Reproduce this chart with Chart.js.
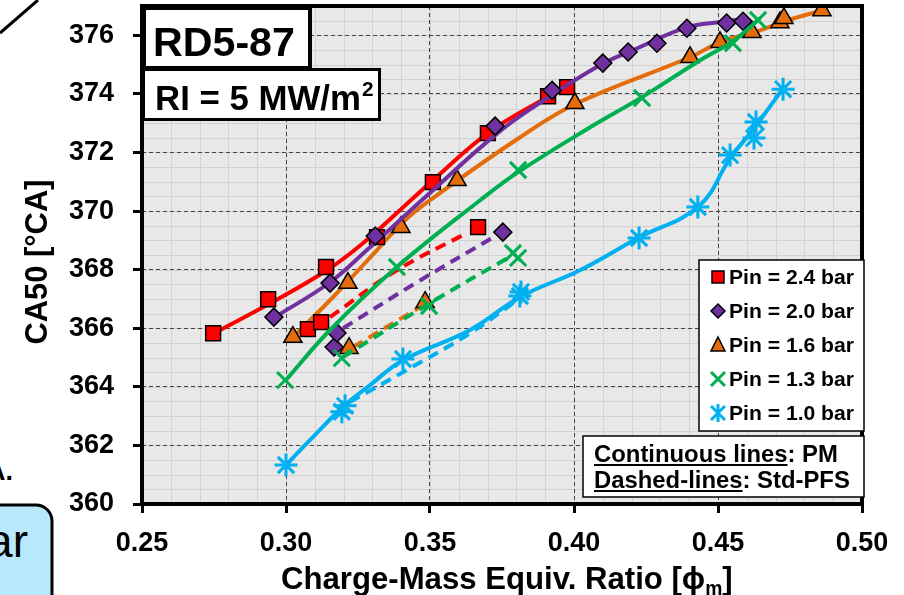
<!DOCTYPE html>
<html>
<head>
<meta charset="utf-8">
<script src="https://cdn.jsdelivr.net/npm/chart.js@4.4.1/dist/chart.umd.min.js"></script>
<style>
  body { margin: 0; background: #fff; width: 904px; height: 595px; overflow: hidden; position: relative; }
  #side { position: absolute; left: 0; top: 0; }
  #c { position: absolute; left: 0; top: 0; }
</style>
</head>
<body>
<svg id="side" width="904" height="595">
  <line x1="0" y1="33" x2="38" y2="0" stroke="#000" stroke-width="3"/>
  <text x="13" y="480" font-family="Liberation Sans, Arial" font-weight="bold" font-size="27" text-anchor="end">A.</text>
  <rect x="-30" y="505" width="82" height="120" rx="16" ry="16" fill="#b8e8fb" stroke="#000" stroke-width="3"/>
  <text x="28" y="557" font-family="Liberation Sans, Arial" font-size="46" text-anchor="end">ar</text>
</svg>
<canvas id="c" width="904" height="595"></canvas>
<script>
const FONT = '"Liberation Sans", Arial, "DejaVu Sans", sans-serif';

// axis ticks
const xTicks = [0.25, 0.30, 0.35, 0.40, 0.45, 0.50];
const yTicks = [360, 362, 364, 366, 368, 370, 372, 374, 376];

const seriesNames = ['Pin = 2.4 bar', 'Pin = 2.0 bar', 'Pin = 1.6 bar', 'Pin = 1.3 bar', 'Pin = 1.0 bar'];

// measured points, PM
const pin24PmPhi  = [0.2747, 0.2938, 0.3139, 0.3316, 0.3510, 0.3701, 0.3910, 0.3976];
const pin24PmCa50 = [365.83, 366.99, 368.09, 369.11, 370.99, 372.66, 373.92, 374.23];
const pin20PmPhi  = [0.2958, 0.3153, 0.3310, 0.3726, 0.3924, 0.4100, 0.4188, 0.4288, 0.4392, 0.4530, 0.4587];
const pin20PmCa50 = [366.38, 367.54, 369.15, 372.90, 374.12, 375.05, 375.43, 375.73, 376.24, 376.42, 376.48];
const pin16PmPhi  = [0.3024, 0.3215, 0.3399, 0.3594, 0.4003, 0.4403, 0.4507, 0.4618, 0.4715, 0.4729, 0.4861];
const pin16PmCa50 = [365.70, 367.54, 369.45, 371.05, 373.68, 375.25, 375.76, 376.10, 376.44, 376.58, 376.85];
const pin13PmPhi  = [0.2997, 0.3385, 0.3806, 0.4236, 0.4552, 0.4639];
const pin13PmCa50 = [364.23, 368.09, 371.40, 373.86, 375.73, 376.52];
const pin10PmPhi  = [0.3000, 0.3205, 0.3406, 0.3816, 0.4226, 0.4430, 0.4542, 0.4625, 0.4632, 0.4726];
const pin10PmCa50 = [361.33, 363.35, 364.95, 367.24, 369.08, 370.14, 371.91, 372.49, 373.04, 374.16];

// measured points, Std-PFS
const pin24PfsPhi  = [0.3076, 0.3122, 0.3667];
const pin24PfsCa50 = [365.97, 366.21, 369.45];
const pin20PfsPhi  = [0.3167, 0.3177, 0.3753];
const pin20PfsCa50 = [365.36, 365.84, 369.28];
const pin16PfsPhi  = [0.3219, 0.3483];
const pin16PfsCa50 = [365.32, 366.89];
const pin13PfsPhi  = [0.3194, 0.3497, 0.3788, 0.3806];
const pin13PfsCa50 = [364.98, 366.76, 368.57, 368.40];
const pin10PfsPhi  = [0.3194, 0.3812];
const pin10PfsCa50 = [363.15, 367.10];

// trend curves as drawn in the figure, PM (continuous)
const pin24PmCurvePhi  = [0.2771, 0.2934, 0.3142, 0.3267, 0.3441, 0.3510, 0.3701, 0.3906, 0.3986];
const pin24PmCurveCa50 = [365.94, 366.79, 367.98, 368.90, 370.44, 371.05, 372.66, 373.89, 374.36];
const pin20PmCurvePhi  = [0.2962, 0.3153, 0.3281, 0.3483, 0.3743, 0.3917, 0.4090, 0.4205, 0.4392, 0.4531, 0.4601];
const pin20PmCurveCa50 = [366.38, 367.57, 368.67, 370.47, 372.73, 373.92, 374.98, 375.49, 376.27, 376.48, 376.58];
const pin16PmCurvePhi  = [0.3021, 0.3167, 0.3316, 0.3406, 0.3500, 0.3813, 0.4010, 0.4403, 0.4507, 0.4646, 0.4740, 0.4861];
const pin16PmCurveCa50 = [365.66, 367.10, 368.67, 369.62, 370.37, 372.52, 373.68, 375.25, 375.76, 376.17, 376.51, 376.85];
const pin13PmCurvePhi  = [0.2997, 0.3153, 0.3385, 0.3674, 0.3806, 0.4056, 0.4236, 0.4438, 0.4552, 0.4646];
const pin13PmCurveCa50 = [364.20, 365.94, 368.09, 370.37, 371.33, 372.86, 373.89, 375.15, 375.80, 376.58];
const pin10PmCurvePhi  = [0.3000, 0.3083, 0.3194, 0.3292, 0.3406, 0.3639, 0.3819, 0.4021, 0.4222, 0.4434, 0.4542, 0.4628, 0.4726];
const pin10PmCurveCa50 = [361.33, 362.18, 363.28, 364.06, 364.91, 365.94, 367.10, 367.98, 369.08, 370.17, 371.80, 372.86, 374.19];

// trend curves, Std-PFS (dashed)
const pin24PfsCurvePhi  = [0.3153, 0.3385, 0.3628];
const pin24PfsCurveCa50 = [366.38, 367.98, 369.25];
const pin20PfsCurvePhi  = [0.3198, 0.3455, 0.3733];
const pin20PfsCurveCa50 = [366.00, 367.57, 369.18];
const pin16PfsCurvePhi  = [0.3233, 0.3465];
const pin16PfsCurveCa50 = [365.36, 366.72];
const pin13PfsCurvePhi  = [0.3198, 0.3500, 0.3788];
const pin13PfsCurveCa50 = [365.02, 366.86, 368.50];
const pin10PfsCurvePhi  = [0.3222, 0.3431, 0.3639, 0.3813];
const pin10PfsCurveCa50 = [363.48, 364.64, 365.83, 367.03];

const pmPhi = [pin24PmPhi, pin20PmPhi, pin16PmPhi, pin13PmPhi, pin10PmPhi];
const pmCa50 = [pin24PmCa50, pin20PmCa50, pin16PmCa50, pin13PmCa50, pin10PmCa50];
const pfsPhi = [pin24PfsPhi, pin20PfsPhi, pin16PfsPhi, pin13PfsPhi, pin10PfsPhi];
const pfsCa50 = [pin24PfsCa50, pin20PfsCa50, pin16PfsCa50, pin13PfsCa50, pin10PfsCa50];
const pmCurvePhi = [pin24PmCurvePhi, pin20PmCurvePhi, pin16PmCurvePhi, pin13PmCurvePhi, pin10PmCurvePhi];
const pmCurveCa50 = [pin24PmCurveCa50, pin20PmCurveCa50, pin16PmCurveCa50, pin13PmCurveCa50, pin10PmCurveCa50];
const pfsCurvePhi = [pin24PfsCurvePhi, pin20PfsCurvePhi, pin16PfsCurvePhi, pin13PfsCurvePhi, pin10PfsCurvePhi];
const pfsCurveCa50 = [pin24PfsCurveCa50, pin20PfsCurveCa50, pin16PfsCurveCa50, pin13PfsCurveCa50, pin10PfsCurveCa50];

// styles
const colors = ['#ff0000', '#7030a0', '#e46c0a', '#00b050', '#00b0f0'];
const shapes = ['rect', 'rectRot', 'triangle', 'crossRot', 'star'];
const radii = [10.5, 9, 10.5, 11.5, 11.5];
const drawOrder = [4, 3, 5, 2, 1];

function pts(xs, ys) {
  return xs.map((v, i) => ({ x: v, y: ys[i] }));
}

function curveSet(i, xs, ys, dashed) {
  return {
    label: seriesNames[i] + (dashed ? ' Std-PFS' : ' PM'),
    data: pts(xs, ys),
    showLine: true,
    borderColor: colors[i],
    borderWidth: 4,
    borderDash: dashed ? [11, 7] : [],
    tension: 0.4,
    pointRadius: 0,
    pointHoverRadius: 0,
    order: drawOrder[i] + 0.5
  };
}

function markSet(i, xs, ys, dashed) {
  const filled = i < 3;
  return {
    label: seriesNames[i] + (dashed ? ' Std-PFS points' : ' PM points'),
    data: pts(xs, ys),
    showLine: false,
    pointStyle: shapes[i],
    pointRadius: radii[i],
    pointHoverRadius: radii[i],
    pointBackgroundColor: filled ? colors[i] : 'transparent',
    pointBorderColor: filled ? '#000' : colors[i],
    pointBorderWidth: filled ? 1.5 : 3,
    order: drawOrder[i]
  };
}

const datasets = [];
for (let i = 0; i < seriesNames.length; i++) {
  datasets.push(curveSet(i, pmCurvePhi[i], pmCurveCa50[i], false));
  datasets.push(curveSet(i, pfsCurvePhi[i], pfsCurveCa50[i], true));
  datasets.push(markSet(i, pmPhi[i], pmCa50[i], false));
  datasets.push(markSet(i, pfsPhi[i], pfsCa50[i], true));
}

function fitSize(ctx, text, weight, target) {
  ctx.font = `${weight} 100px ${FONT}`;
  return 100 * target / ctx.measureText(text).width;
}

function legendMark(ctx, i, x, y) {
  ctx.save();
  ctx.fillStyle = colors[i];
  ctx.strokeStyle = '#000';
  ctx.lineWidth = 1.5;
  ctx.beginPath();
  if (i === 0) {
    ctx.rect(x - 6, y - 6, 12, 12);
    ctx.fill(); ctx.stroke();
  } else if (i === 1) {
    ctx.moveTo(x, y - 7); ctx.lineTo(x + 7, y); ctx.lineTo(x, y + 7); ctx.lineTo(x - 7, y); ctx.closePath();
    ctx.fill(); ctx.stroke();
  } else if (i === 2) {
    ctx.moveTo(x, y - 8); ctx.lineTo(x + 7, y + 6); ctx.lineTo(x - 7, y + 6); ctx.closePath();
    ctx.fill(); ctx.stroke();
  } else if (i === 3) {
    ctx.strokeStyle = colors[i]; ctx.lineWidth = 3;
    ctx.moveTo(x - 7, y - 7); ctx.lineTo(x + 7, y + 7);
    ctx.moveTo(x + 7, y - 7); ctx.lineTo(x - 7, y + 7);
    ctx.stroke();
  } else {
    ctx.strokeStyle = colors[i]; ctx.lineWidth = 3;
    ctx.moveTo(x - 7, y - 7); ctx.lineTo(x + 7, y + 7);
    ctx.moveTo(x + 7, y - 7); ctx.lineTo(x - 7, y + 7);
    ctx.moveTo(x, y - 9); ctx.lineTo(x, y + 9);
    ctx.stroke();
  }
  ctx.restore();
}

const decor = {
  id: 'decor',
  beforeDraw(chart) {
    const { ctx, chartArea: a, scales: { x, y } } = chart;
    ctx.save();
    ctx.fillStyle = '#e8e8e8';
    ctx.fillRect(a.left, a.top, a.width, a.height);
    ctx.strokeStyle = '#d2d2d2';
    ctx.lineWidth = 1;
    ctx.beginPath();
    for (let v = x.min; v <= x.max + 1e-9; v += 0.01) {
      const px = Math.round(x.getPixelForValue(v)) + 0.5;
      ctx.moveTo(px, a.top); ctx.lineTo(px, a.bottom);
    }
    for (let v = y.min; v <= y.max + 1e-9; v += 0.5) {
      const py = Math.round(y.getPixelForValue(v)) + 0.5;
      ctx.moveTo(a.left, py); ctx.lineTo(a.right, py);
    }
    ctx.stroke();
    ctx.restore();
  },
  afterDraw(chart) {
    const { ctx, chartArea: a } = chart;
    ctx.save();
    // frame
    ctx.strokeStyle = '#000';
    ctx.lineWidth = 4;
    ctx.strokeRect(a.left, a.top, a.width, a.height);

    // axis titles
    ctx.fillStyle = '#000';
    const t1 = 'Charge-Mass Equiv. Ratio [', phi = 'ϕ', sub = 'm', t2 = ']';
    ctx.font = `bold 100px ${FONT}`;
    const full = ctx.measureText(t1 + phi + t2).width;
    ctx.font = `bold 62px ${FONT}`;
    const fullSub = ctx.measureText(sub).width;
    const fs = 100 * 452 / (full + fullSub);
    ctx.font = `bold ${fs}px ${FONT}`;
    const w1 = ctx.measureText(t1).width, wp = ctx.measureText(phi).width;
    ctx.font = `bold ${fs * 0.62}px ${FONT}`;
    const ws = ctx.measureText(sub).width;
    let tx = 281;
    const base = 589;
    ctx.textBaseline = 'alphabetic';
    ctx.textAlign = 'left';
    ctx.font = `bold ${fs}px ${FONT}`;
    ctx.fillText(t1, tx, base); tx += w1;
    ctx.fillText(phi, tx, base); tx += wp;
    ctx.font = `bold ${fs * 0.62}px ${FONT}`;
    ctx.fillText(sub, tx, base + 6); tx += ws;
    ctx.font = `bold ${fs}px ${FONT}`;
    ctx.fillText(t2, tx, base);

    ctx.save();
    ctx.translate(38, 262);
    ctx.rotate(-Math.PI / 2);
    ctx.textAlign = 'center';
    ctx.textBaseline = 'middle';
    ctx.font = `bold ${fitSize(ctx, 'CA50 [°CA]', 'bold', 165)}px ${FONT}`;
    ctx.fillText('CA50 [°CA]', 0, 0);
    ctx.restore();

    // title boxes, hung from the top-left corner of the plot
    const bx = a.left, by = a.top;
    ctx.fillStyle = '#fff';
    ctx.fillRect(bx + 2, by + 2, 166, 60);
    ctx.fillRect(bx + 2, by + 64, 235, 49);
    ctx.strokeStyle = '#000';
    ctx.lineWidth = 4;
    ctx.strokeRect(bx + 2, by + 2, 166, 60);
    ctx.lineWidth = 3;
    ctx.strokeRect(bx + 1.5, by + 63.5, 236, 50);
    ctx.fillStyle = '#000';
    ctx.textAlign = 'left';
    ctx.textBaseline = 'alphabetic';
    let s = fitSize(ctx, 'RD5-87', 'bold', 142);
    ctx.font = `bold ${s}px ${FONT}`;
    ctx.fillText('RD5-87', bx + 11, by + 50);
    s = fitSize(ctx, 'RI = 5 MW/m', 'bold', 206);
    ctx.font = `bold ${s}px ${FONT}`;
    ctx.fillText('RI = 5 MW/m', bx + 13, by + 104);
    const wr = ctx.measureText('RI = 5 MW/m').width;
    ctx.font = `bold ${s * 0.6}px ${FONT}`;
    ctx.fillText('2', bx + 13 + wr + 1, by + 90);

    // legend
    ctx.fillStyle = '#fff';
    ctx.fillRect(699, 260, 165, 171);
    ctx.strokeStyle = '#000';
    ctx.lineWidth = 1.5;
    ctx.strokeRect(699, 260, 165, 171);
    s = fitSize(ctx, seriesNames[0], 'bold', 125);
    ctx.font = `bold ${s}px ${FONT}`;
    ctx.textBaseline = 'middle';
    for (let i = 0; i < seriesNames.length; i++) {
      const ly = 277 + i * 34;
      legendMark(ctx, i, 718, ly);
      ctx.fillStyle = '#000';
      ctx.fillText(seriesNames[i], 729, ly + 1);
    }

    // line-style note
    ctx.fillStyle = '#fff';
    ctx.fillRect(583, 436, 281, 61);
    ctx.strokeRect(583, 436, 281, 61);
    s = fitSize(ctx, 'Continuous lines: PM', 'bold', 244);
    ctx.font = `bold ${s}px ${FONT}`;
    ctx.fillStyle = '#000';
    ctx.textBaseline = 'alphabetic';
    const notes = [['Continuous lines', ': PM', 462], ['Dashed-lines', ': Std-PFS', 488]];
    for (const [u, rest, ny] of notes) {
      const wu = ctx.measureText(u).width;
      ctx.fillText(u, 594, ny);
      ctx.fillText(rest, 594 + wu, ny);
      ctx.fillRect(594, ny + 2, wu, 2);
    }
    ctx.restore();
  }
};

new Chart(document.getElementById('c'), {
  type: 'scatter',
  data: { datasets },
  options: {
    responsive: false,
    animation: false,
    layout: { autoPadding: false, padding: { left: 0, right: 42, top: 6, bottom: 0 } },
    plugins: { legend: { display: false }, tooltip: { enabled: false } },
    scales: {
      x: {
        type: 'linear',
        min: 0.25,
        max: 0.50,
        afterBuildTicks: sc => { sc.ticks = xTicks.map(v => ({ value: v })); },
        afterFit: sc => { sc.height = 91; sc.paddingLeft = 0; sc.paddingRight = 0; },
        ticks: {
          autoSkip: false,
          maxRotation: 0,
          padding: 14,
          color: '#000',
          font: { family: FONT, size: 27, weight: 'bold' },
          callback: v => v.toFixed(2)
        },
        grid: {
          color: '#444',
          lineWidth: 1,
          tickColor: '#000',
          tickWidth: 3,
          tickLength: 9,
          tickBorderDash: []
        },
        border: { display: false, dash: [4, 3] }
      },
      y: {
        type: 'linear',
        min: 360,
        max: 377,
        afterBuildTicks: sc => { sc.ticks = yTicks.map(v => ({ value: v })); },
        afterFit: sc => { sc.width = 142; sc.paddingTop = 0; sc.paddingBottom = 0; },
        ticks: {
          autoSkip: false,
          padding: 19,
          color: '#000',
          font: { family: FONT, size: 27, weight: 'bold' },
          callback: v => String(v)
        },
        grid: {
          color: '#444',
          lineWidth: 1,
          tickColor: '#000',
          tickWidth: 3,
          tickLength: 9,
          tickBorderDash: []
        },
        border: { display: false, dash: [4, 3] }
      }
    }
  },
  plugins: [decor]
});
</script>
</body>
</html>
